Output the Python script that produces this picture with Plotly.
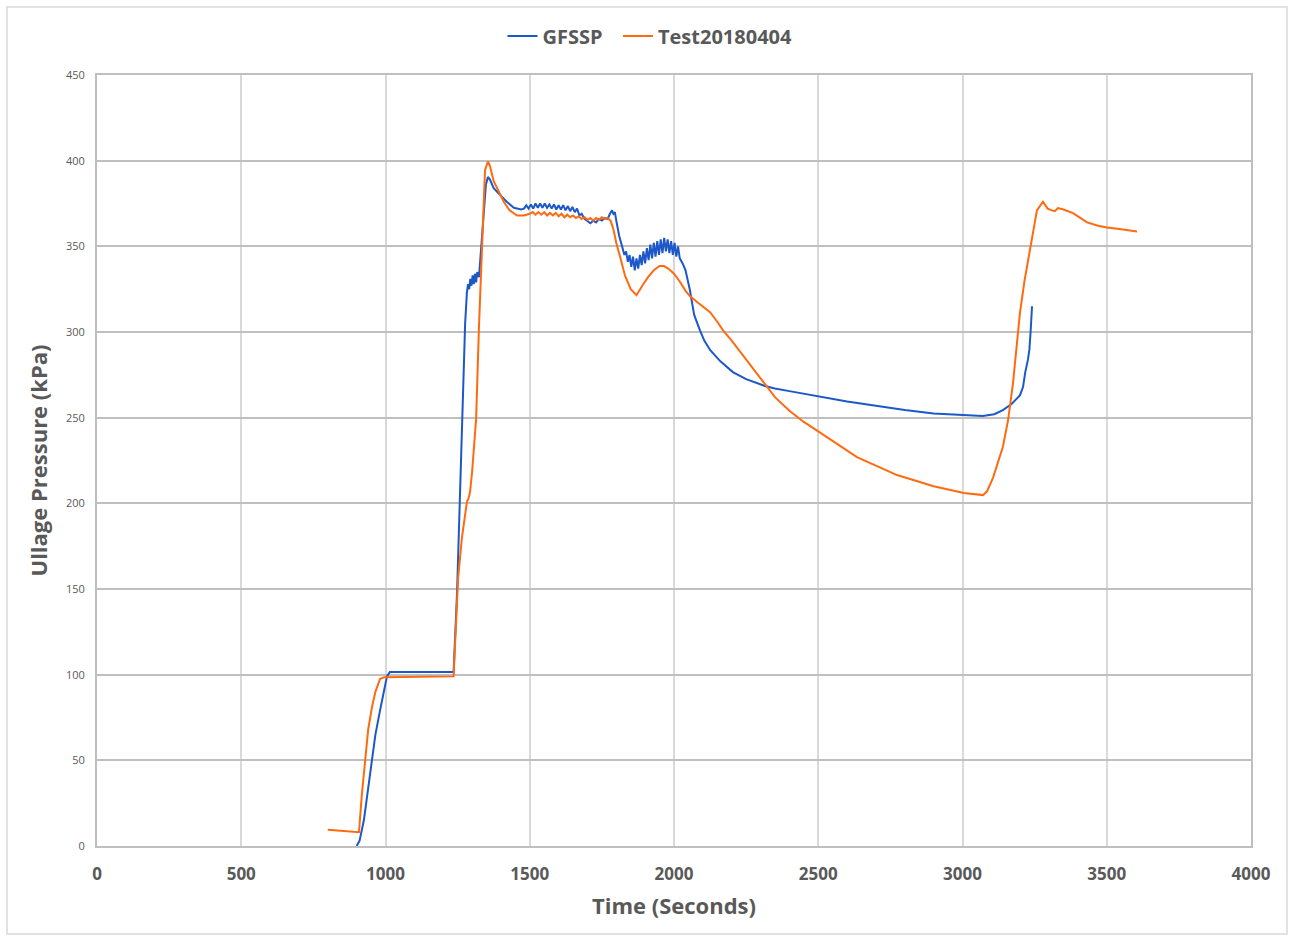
import plotly.graph_objects as go

# GFSSP model (blue)
gfssp_t = [900, 910, 925, 940, 953, 965, 981, 995, 1005, 1015, 1236,
           1248, 1258, 1269, 1276, 1282, 1286, 1290, 1294, 1298, 1302, 1306, 1310, 1314, 1318, 1324,
           1332, 1340, 1348, 1355, 1362, 1375, 1390, 1420, 1445, 1470,
           1480, 1488, 1496, 1504, 1512, 1520, 1528, 1536, 1544, 1552, 1560, 1568, 1576, 1584, 1592,
           1600, 1608, 1616, 1624, 1632, 1640, 1648, 1656, 1664, 1672, 1680, 1690, 1700, 1710, 1720,
           1730, 1740, 1750, 1760, 1770, 1778, 1785, 1790, 1795, 1800, 1810, 1820, 1828, 1834, 1840,
           1846, 1852, 1858, 1864, 1870, 1876, 1882, 1888, 1894, 1900, 1906, 1912, 1918, 1924, 1930,
           1936, 1942, 1948, 1954, 1960, 1966, 1972, 1978, 1984, 1990, 1996, 2002, 2008, 2014, 2020,
           2030, 2040, 2055, 2070, 2090, 2105, 2125, 2160, 2204, 2250, 2315, 2350, 2400, 2450, 2500,
           2600, 2700, 2800, 2900, 3000, 3070, 3110, 3140, 3170, 3199, 3210, 3217, 3227, 3232, 3236, 3241]
gfssp_p = [0, 3, 15, 35, 50, 65, 79, 92, 99, 101.5, 101.5,
           148, 206, 274, 305, 322.7, 328, 325, 331, 327, 333, 328, 334, 329, 335, 332,
           350, 372, 386, 390.5, 389, 384, 381.5, 376, 372.5, 371.5,
           372, 374, 372, 374.5, 372, 375, 372.5, 375, 372.5, 375, 372.5, 374.5, 372, 374.5, 371.5,
           374, 371.5, 374, 371, 373.5, 370.5, 373, 370, 372, 368, 369, 366, 365, 363.5, 365,
           364, 366, 365, 366.5, 366, 369, 371, 369, 370, 365, 356, 350, 345, 347, 341,
           345, 338, 344, 336, 343, 337, 345, 339, 347, 340, 349, 342, 351, 343, 352,
           344, 353, 345, 354, 346, 355, 347, 354, 346, 353, 345, 352, 344, 350, 343,
           340, 336, 324.5, 310, 301, 295, 289.5, 283, 276.6, 272.5, 268.5, 267, 265.5, 264, 262.5,
           259.5, 257, 254.5, 252.5, 251.5, 251, 252, 254.4, 258, 263, 268, 276, 284, 290, 300, 315]

# Test 20180404 (orange)
test_t = [800, 850, 908, 918, 929, 940, 953, 965, 981, 995, 1236,
          1244, 1252, 1265, 1282, 1288, 1293, 1300, 1314, 1324, 1334, 1345, 1355, 1362,
          1375, 1390, 1410, 1430, 1456, 1480,
          1500, 1510, 1520, 1530, 1540, 1550, 1560, 1570, 1580, 1590, 1600, 1610, 1620, 1630, 1640,
          1650, 1660, 1670, 1680, 1690, 1700, 1710, 1720, 1730, 1740, 1750, 1760, 1770, 1780, 1790,
          1800, 1813, 1830, 1850, 1870, 1890, 1910, 1930, 1950, 1965, 1980, 2000, 2020, 2040, 2055,
          2080, 2100, 2125, 2150, 2170, 2200, 2250, 2315, 2350, 2400, 2450, 2500, 2634, 2773, 2900,
          3005, 3071, 3085, 3106, 3140, 3158, 3175, 3199, 3215, 3234, 3258, 3279, 3295, 3310, 3320,
          3331, 3350, 3383, 3432, 3470, 3501, 3550, 3605]
test_p = [9.5, 9, 8, 30, 50, 68, 81, 90, 97.5, 98.5, 99,
          125, 157, 180, 200.7, 203, 206.6, 218, 249, 303, 352, 394.5, 399.5, 397,
          388, 383, 376, 371, 368, 368,
          369, 370, 368.5, 370, 368.5, 370, 368, 369.5, 368, 369.5, 367.5, 369, 367, 368.5, 367,
          368, 366.5, 367.5, 366, 367, 365.5, 366.5, 365, 366.5, 365.5, 367, 366, 366.5, 365, 360,
          352, 344, 333, 325, 321.5, 327, 332, 336, 338.5, 338.5, 337, 334, 329.5, 324, 321,
          317.5, 315, 311.6, 306, 301, 295, 284, 269, 262, 254, 247.5, 242, 227, 216.5, 210,
          206, 204.8, 207, 215, 233, 248.6, 270, 311, 330, 349, 371, 376, 372, 371, 370.5,
          372.3, 371.5, 369.4, 364, 362, 361, 360, 358.7]

x_ticks = [0, 500, 1000, 1500, 2000, 2500, 3000, 3500, 4000]
y_ticks = [0, 50, 100, 150, 200, 250, 300, 350, 400, 450]

BLUE = "#1C58C8"
ORANGE = "#FF6A10"
TXT = "#595959"
FONT = "Open Sans"

fig = go.Figure()
fig.add_trace(go.Scatter(x=gfssp_t, y=gfssp_p, mode="lines", name="<b>GFSSP</b>&nbsp;&nbsp;",
                         line=dict(color=BLUE, width=2)))
fig.add_trace(go.Scatter(x=test_t, y=test_p, mode="lines", name="<b>Test20180404</b>",
                         line=dict(color=ORANGE, width=2)))

W, H = 1290, 937
L, R, T, B = 97, 39, 75, 91
pw, ph = W - L - R, H - T - B

fig.update_layout(
    width=W, height=H,
    margin=dict(l=L, r=R, t=T, b=B),
    paper_bgcolor="white", plot_bgcolor="white",
    font=dict(family=FONT, color=TXT),
    showlegend=True,
    legend=dict(orientation="h", x=(650 - L) / pw, xanchor="center", y=(H - 36 - B) / ph,
                yanchor="middle",
                font=dict(family=FONT, size=20, color=TXT), itemwidth=30,
                bgcolor="rgba(0,0,0,0)"),
    xaxis=dict(range=[0, 4000], tickvals=x_ticks, ticktext=[f"<b>{v}</b>" for v in x_ticks],
               tickfont=dict(size=17, color=TXT), showgrid=True, gridcolor="#D9D9D9", gridwidth=1.5,
               zeroline=False, showline=True, linecolor="#BFBFBF", linewidth=2, mirror=True,
               ticks="", ticklen=0, ticklabelstandoff=12,
               title=dict(text="<b>Time (Seconds)</b>", font=dict(size=22, color=TXT), standoff=14)),
    yaxis=dict(range=[0, 450], tickvals=y_ticks, tickfont=dict(size=11, color=TXT),
               showgrid=True, gridcolor="#BFBFBF", gridwidth=2,
               zeroline=False, showline=True, linecolor="#BFBFBF", linewidth=2, mirror=True,
               ticks="", ticklen=0, ticklabelstandoff=8,
               title=dict(text="<b>Ullage Pressure (kPa)</b>", font=dict(size=22, color=TXT), standoff=12)),
)

# outer chart border
fig.add_shape(type="rect", xref="paper", yref="paper",
              x0=(7 - L) / pw, x1=(1287 - L) / pw,
              y0=(H - B - 934) / ph, y1=(H - B - 7) / ph,
              line=dict(color="#D9D9D9", width=1.5), fillcolor="rgba(0,0,0,0)", layer="below")

fig.write_html("out.html", config={"displayModeBar": False},
               post_script="document.body.style.margin='0';")
